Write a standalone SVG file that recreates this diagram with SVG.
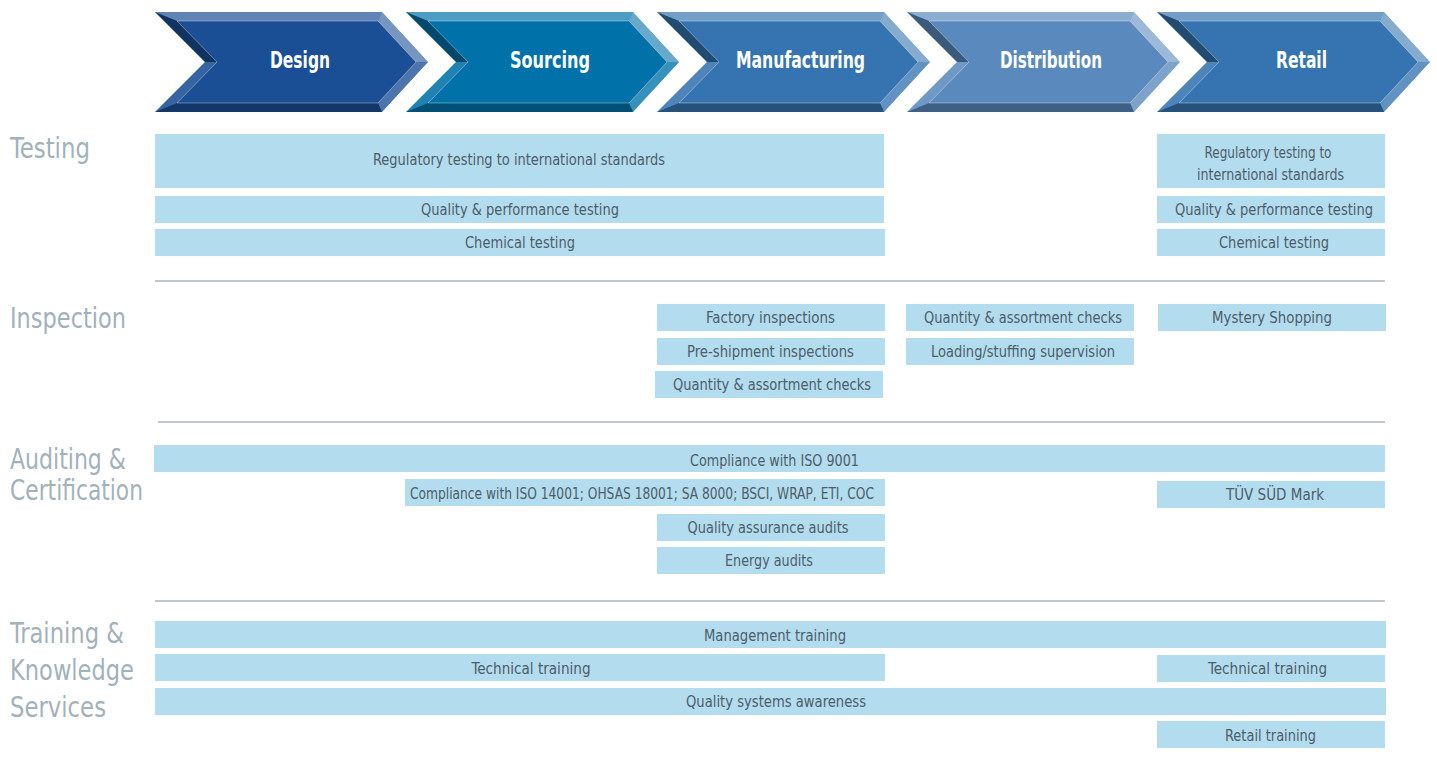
<svg xmlns="http://www.w3.org/2000/svg" xmlns:xlink="http://www.w3.org/1999/xlink" width="1437" height="769" viewBox="0 0 1437 769">
<style>
.bar{fill:#b3dcee}
.bt{font-family:"Liberation Sans Narrow","DejaVu Sans Condensed","Roboto Condensed","Liberation Sans",sans-serif;font-size:16.5px;fill:#4d5d69;text-anchor:middle}
.cat{font-family:"Liberation Sans Narrow","DejaVu Sans Condensed","Roboto Condensed","Liberation Sans",sans-serif;font-size:29px;fill:#a3b1bb}
.ct{font-family:"Liberation Sans Narrow","DejaVu Sans Condensed","Roboto Condensed","Liberation Sans",sans-serif;font-size:23px;font-weight:bold;fill:#ffffff;text-anchor:middle}
.sep{stroke:#a9b5bf;stroke-width:1.5}
</style>
<defs>
<g id="bevel">
<polygon points="0,12 227,12 223,21 22,21" fill="#ffffff" fill-opacity="0.3"/>
<polygon points="227,12 273,62 261,62 223,21" fill="#ffffff" fill-opacity="0.4"/>
<polygon points="273,62 227,112 223,103 261,62" fill="#ffffff" fill-opacity="0.22"/>
<polygon points="227,112 0,112 22,103 223,103" fill="#000000" fill-opacity="0.3"/>
<polygon points="0,112 50,62 62,62 22,103" fill="#ffffff" fill-opacity="0.12"/>
<polygon points="50,62 0,12 22,21 62,62" fill="#000000" fill-opacity="0.35"/>
<polygon points="22,21 223,21 261,62 223,103 22,103 62,62" fill="none" stroke="#ffffff" stroke-opacity="0.35" stroke-width="1"/>
</g>
</defs>

<g id="chevrons">
<g id="chev-design" transform="translate(155,0)">
<polygon points="0,12 227,12 273,62 227,112 0,112 50,62" fill="#1b4f95"/>
<use xlink:href="#bevel" href="#bevel"/>
<text class="ct" x="145" y="68" textLength="60" lengthAdjust="spacingAndGlyphs">Design</text>
</g>
<g id="chev-sourcing" transform="translate(406,0)">
<polygon points="0,12 227,12 273,62 227,112 0,112 50,62" fill="#0071a9"/>
<use xlink:href="#bevel" href="#bevel"/>
<text class="ct" x="144" y="68" textLength="80" lengthAdjust="spacingAndGlyphs">Sourcing</text>
</g>
<g id="chev-manufacturing" transform="translate(657,0)">
<polygon points="0,12 227,12 273,62 227,112 0,112 50,62" fill="#3574b0"/>
<use xlink:href="#bevel" href="#bevel"/>
<text class="ct" x="143.5" y="68" textLength="129" lengthAdjust="spacingAndGlyphs">Manufacturing</text>
</g>
<g id="chev-distribution" transform="translate(907,0)">
<polygon points="0,12 227,12 273,62 227,112 0,112 50,62" fill="#5a8abd"/>
<use xlink:href="#bevel" href="#bevel"/>
<text class="ct" x="144" y="68" textLength="102" lengthAdjust="spacingAndGlyphs">Distribution</text>
</g>
<g id="chev-retail" transform="translate(1157,0)">
<polygon points="0,12 227,12 273,62 227,112 0,112 50,62" fill="#3574b0"/>
<use xlink:href="#bevel" href="#bevel"/>
<text class="ct" x="144.5" y="68" textLength="51" lengthAdjust="spacingAndGlyphs">Retail</text>
</g>
</g>

<g id="categories">
<text class="cat" x="10" y="158" textLength="80" lengthAdjust="spacingAndGlyphs">Testing</text>
<text class="cat" x="10" y="328" textLength="116" lengthAdjust="spacingAndGlyphs">Inspection</text>
<text class="cat" x="10" y="469" textLength="116" lengthAdjust="spacingAndGlyphs">Auditing &amp;</text>
<text class="cat" x="10" y="500" textLength="133" lengthAdjust="spacingAndGlyphs">Certification</text>
<text class="cat" x="10" y="643" textLength="114" lengthAdjust="spacingAndGlyphs">Training &amp;</text>
<text class="cat" x="10" y="680" textLength="124" lengthAdjust="spacingAndGlyphs">Knowledge</text>
<text class="cat" x="10" y="717" textLength="96" lengthAdjust="spacingAndGlyphs">Services</text>
</g>

<g id="separators">
<line class="sep" x1="155" y1="281" x2="1385" y2="281"/>
<line class="sep" x1="158" y1="422" x2="1385" y2="422"/>
<line class="sep" x1="155" y1="601" x2="1385" y2="601"/>
</g>

<g id="testing">
<g id="t1"><rect class="bar" x="155" y="134" width="729" height="54"/><text class="bt" x="519" y="165" textLength="292" lengthAdjust="spacingAndGlyphs">Regulatory testing to international standards</text></g>
<g id="t2"><rect class="bar" x="155" y="196" width="729" height="27"/><text class="bt" x="520" y="215" textLength="198" lengthAdjust="spacingAndGlyphs">Quality &amp; performance testing</text></g>
<g id="t3"><rect class="bar" x="155" y="229" width="730" height="27"/><text class="bt" x="520" y="248" textLength="110" lengthAdjust="spacingAndGlyphs">Chemical testing</text></g>
<g id="t4"><rect class="bar" x="1157" y="134" width="228" height="54"/><text class="bt" x="1268" y="158" textLength="127" lengthAdjust="spacingAndGlyphs">Regulatory testing to</text><text class="bt" x="1270.5" y="180" textLength="147" lengthAdjust="spacingAndGlyphs">international standards</text></g>
<g id="t5"><rect class="bar" x="1157" y="196" width="228" height="27"/><text class="bt" x="1274" y="215" textLength="198" lengthAdjust="spacingAndGlyphs">Quality &amp; performance testing</text></g>
<g id="t6"><rect class="bar" x="1157" y="229" width="228" height="27"/><text class="bt" x="1274" y="248" textLength="110" lengthAdjust="spacingAndGlyphs">Chemical testing</text></g>
</g>

<g id="inspection">
<g id="i1"><rect class="bar" x="657" y="304" width="228" height="27"/><text class="bt" x="770.5" y="323" textLength="129" lengthAdjust="spacingAndGlyphs">Factory inspections</text></g>
<g id="i2"><rect class="bar" x="657" y="338" width="228" height="27"/><text class="bt" x="770.5" y="357" textLength="167" lengthAdjust="spacingAndGlyphs">Pre-shipment inspections</text></g>
<g id="i3"><rect class="bar" x="655" y="371" width="228" height="27"/><text class="bt" x="772" y="390" textLength="198" lengthAdjust="spacingAndGlyphs">Quantity &amp; assortment checks</text></g>
<g id="i4"><rect class="bar" x="906" y="304" width="228" height="27"/><text class="bt" x="1023" y="323" textLength="198" lengthAdjust="spacingAndGlyphs">Quantity &amp; assortment checks</text></g>
<g id="i5"><rect class="bar" x="906" y="338" width="228" height="27"/><text class="bt" x="1023" y="357" textLength="184" lengthAdjust="spacingAndGlyphs">Loading/stuffing supervision</text></g>
<g id="i6"><rect class="bar" x="1158" y="304" width="228" height="27"/><text class="bt" x="1272" y="323" textLength="120" lengthAdjust="spacingAndGlyphs">Mystery Shopping</text></g>
</g>

<g id="auditing">
<g id="a1"><rect class="bar" x="154" y="445" width="1231" height="27"/><text class="bt" x="774.5" y="466" textLength="169" lengthAdjust="spacingAndGlyphs">Compliance with ISO 9001</text></g>
<g id="a2"><rect class="bar" x="405" y="479" width="480" height="27"/><text class="bt" x="642" y="499" textLength="464" lengthAdjust="spacingAndGlyphs">Compliance with ISO 14001; OHSAS 18001; SA 8000; BSCI, WRAP, ETI, COC</text></g>
<g id="a3"><rect class="bar" x="1157" y="481" width="228" height="27"/><text class="bt" x="1275" y="500" textLength="98" lengthAdjust="spacingAndGlyphs">TÜV SÜD Mark</text></g>
<g id="a4"><rect class="bar" x="657" y="514" width="228" height="27"/><text class="bt" x="768" y="533" textLength="161" lengthAdjust="spacingAndGlyphs">Quality assurance audits</text></g>
<g id="a5"><rect class="bar" x="657" y="547" width="228" height="27"/><text class="bt" x="769" y="566" textLength="88" lengthAdjust="spacingAndGlyphs">Energy audits</text></g>
</g>

<g id="training">
<g id="k1"><rect class="bar" x="155" y="621" width="1231" height="27"/><text class="bt" x="775" y="641" textLength="142" lengthAdjust="spacingAndGlyphs">Management training</text></g>
<g id="k2"><rect class="bar" x="155" y="654" width="730" height="27"/><text class="bt" x="531" y="674" textLength="119" lengthAdjust="spacingAndGlyphs">Technical training</text></g>
<g id="k3"><rect class="bar" x="1157" y="655" width="228" height="27"/><text class="bt" x="1267.5" y="674" textLength="119" lengthAdjust="spacingAndGlyphs">Technical training</text></g>
<g id="k4"><rect class="bar" x="155" y="688" width="1231" height="27"/><text class="bt" x="776" y="707" textLength="180" lengthAdjust="spacingAndGlyphs">Quality systems awareness</text></g>
<g id="k5"><rect class="bar" x="1157" y="721" width="228" height="27"/><text class="bt" x="1270.5" y="741" textLength="91" lengthAdjust="spacingAndGlyphs">Retail training</text></g>
</g>
</svg>
